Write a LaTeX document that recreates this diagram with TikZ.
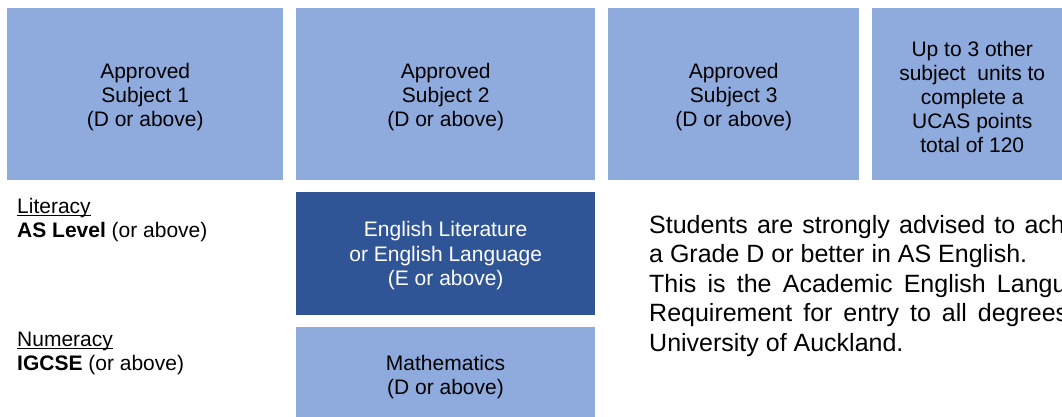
\documentclass[tikz,border=0pt]{standalone}
\usepackage{fontspec}
\setmainfont{Liberation Sans}
\definecolor{lightblue}{HTML}{8FAADC}
\definecolor{darkblue}{HTML}{2F5597}
\newcommand{\myul}[1]{{\setbox0\hbox{#1}\rlap{\rule[-2.2pt]{\wd0}{1.2pt}}\box0}}
\begin{document}
\begin{tikzpicture}[x=1pt,y=-1pt,
  cell/.style={fill=lightblue,draw=none,anchor=north west,inner sep=0pt},
  darkcell/.style={cell,fill=darkblue},
  celltext/.style={inner sep=0pt,align=center,font=\fontsize{21}{24}\selectfont,text=black},
  label/.style={anchor=north west,inner sep=0pt,align=left,
    font=\fontsize{21}{23.5}\selectfont},
  note/.style={anchor=north west,inner sep=0pt,align=left,
    font=\fontsize{25}{29.5}\selectfont}]
\useasboundingbox (0,0) rectangle (1062,416);
\clip (0,0) rectangle (1062,416);
\fill[white] (0,0) rectangle (1062,416);
\node[cell,minimum width=276pt,minimum height=172pt] (s1) at (7,8) {};
\node[celltext] (t1) at ([yshift=-3pt]s1.center) {Approved\\Subject 1\\(D or above)};
\node[cell,minimum width=299pt,minimum height=172pt] (s2) at (296,8) {};
\node[celltext] (t2) at ([yshift=-3pt]s2.center) {Approved\\Subject 2\\(D or above)};
\node[cell,minimum width=251pt,minimum height=172pt] (s3) at (608,8) {};
\node[celltext] (t3) at ([yshift=-3pt]s3.center) {Approved\\Subject 3\\(D or above)};
\node[cell,minimum width=200pt,minimum height=172pt] (s4) at (872,8) {};
\node[celltext] (t4) at ([yshift=-3pt]s4.center) {Up to 3 other\\subject\ \ units to\\complete a\\UCAS points\\total of 120};
\node[darkcell,minimum width=299pt,minimum height=123pt] (eng) at (296,192) {};
\node[celltext,text=white,font=\fontsize{21}{24.5}\selectfont] (te) at ([yshift=-2pt]eng.center) {English Literature\\or English Language\\(E or above)};
\node[cell,minimum width=299pt,minimum height=100pt] (math) at (296,327) {};
\node[celltext] (tm) at (445.5,377) {Mathematics\\(D or above)};
\node[label] (lit) at (17,198.2) {\myul{Literacy}\\\textbf{AS Level} (or above)};
\node[label] (num) at (17,332) {\myul{Numeracy}\\\textbf{IGCSE} (or above)};
\node[note] (adv) at (649,215) {\spaceskip=9.2pt Students are strongly advised to achieve\\\spaceskip=0pt a Grade D or better in AS English.\\\spaceskip=11.2pt This is the Academic English Language\\\spaceskip=11pt Requirement for entry to all degrees at the\\\spaceskip=0pt University of Auckland.};
\end{tikzpicture}
\end{document}
